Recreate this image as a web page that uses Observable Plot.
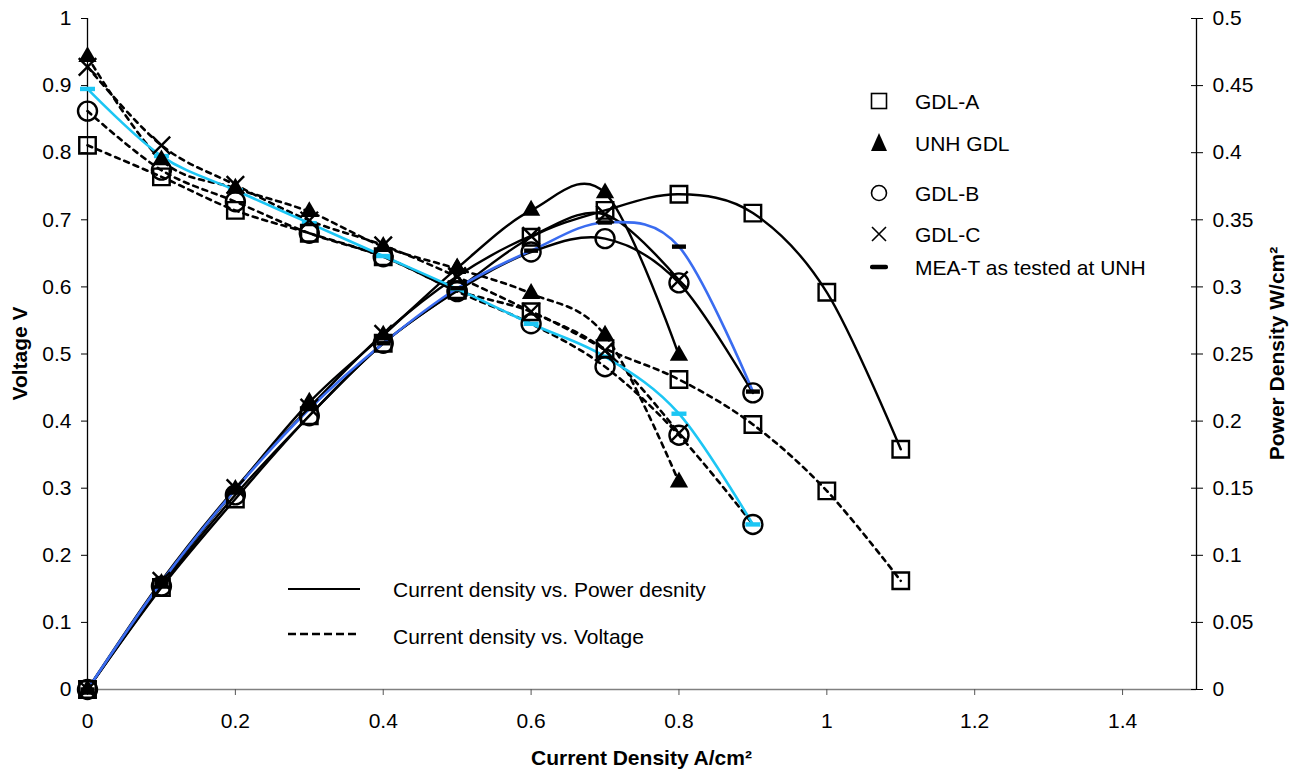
<!DOCTYPE html>
<html>
<head>
<meta charset="utf-8">
<script src="https://cdn.jsdelivr.net/npm/d3@7"></script>
<script src="https://cdn.jsdelivr.net/npm/@observablehq/plot@0.6"></script>
<style>
  html, body { margin: 0; padding: 0; background: #fff; }
  #wrap { position: relative; width: 1299px; height: 771px; overflow: hidden; background: #fff; }
  #wrap svg { display: block; }
  #overlay { position: absolute; left: 0; top: 0; pointer-events: none; }
</style>
</head>
<body>
<div id="wrap"></div>
<script>
// ---------------- data ----------------
const current = [0, 0.1, 0.2, 0.3, 0.4, 0.5, 0.6, 0.7, 0.8, 0.9, 1.0, 1.1];

const seriesNames = ["GDL-A", "UNH GDL", "GDL-B", "GDL-C", "MEA-T as tested at UNH"];

const voltageGDLA = [0.811, 0.764, 0.714, 0.680, 0.645, 0.595, 0.563, 0.508, 0.462, 0.395, 0.296, 0.162];
const powerGDLA   = [0, 0.076, 0.142, 0.204, 0.258, 0.298, 0.337, 0.357, 0.369, 0.355, 0.296, 0.179];

const voltageUNH  = [0.943, 0.789, 0.747, 0.712, 0.660, 0.627, 0.590, 0.528, 0.309];
const powerUNH    = [0, 0.079, 0.149, 0.214, 0.264, 0.314, 0.357, 0.370, 0.249];

const voltageGDLB = [0.862, 0.774, 0.727, 0.680, 0.645, 0.593, 0.545, 0.481, 0.379, 0.246];
const powerGDLB   = [0, 0.077, 0.145, 0.204, 0.258, 0.297, 0.326, 0.336, 0.303, 0.221];

const voltageGDLC = [0.928, 0.811, 0.752, 0.699, 0.662, 0.615, 0.563, 0.505, 0.382];
const powerGDLC   = [0, 0.081, 0.150, 0.210, 0.265, 0.308, 0.338, 0.354, 0.305];

const voltageMEAT = [0.895, 0.795, 0.744, 0.695, 0.646, 0.597, 0.545, 0.496, 0.411, 0.246];
const powerMEAT   = [0, 0.080, 0.149, 0.209, 0.258, 0.299, 0.327, 0.348, 0.330, 0.222];

// axes / tick labels
const xTicks = [0, 0.2, 0.4, 0.6, 0.8, 1, 1.2, 1.4];
const xDomain = [0, 1.5];
const voltageTicks = [0, 0.1, 0.2, 0.3, 0.4, 0.5, 0.6, 0.7, 0.8, 0.9, 1];
const powerTicks = [0, 0.05, 0.1, 0.15, 0.2, 0.25, 0.3, 0.35, 0.4, 0.45, 0.5];
const voltageMax = 1;
const powerMax = 0.5;

const xTitle = "Current Density A/cm²";
const yTitle = "Voltage V";
const y2Title = "Power Density W/cm²";
const lineLegend = ["Current density vs. Power desnity", "Current density vs. Voltage"];

// ---------------- build table ----------------
const voltages = [voltageGDLA, voltageUNH, voltageGDLB, voltageGDLC, voltageMEAT];
const powers = [powerGDLA, powerUNH, powerGDLB, powerGDLC, powerMEAT];
const rows = [];
seriesNames.forEach((s, si) => {
  voltages[si].forEach((v, i) => rows.push({series: s, x: current[i], v, p: powers[si][i]}));
});
const ratio = voltageMax / powerMax;  // right axis -> left axis units
const bySeries = s => rows.filter(d => d.series === s);

// ---------------- styles ----------------
const FONT = "'Liberation Sans', Arial, Helvetica, sans-serif";
const W = 1299, H = 771;
const M = {top: 18, right: 103, bottom: 82, left: 87};
const CYAN = "#1cc6f4";
const BLUE = "#3a6cf0";

const dashSymbol = {
  draw(ctx, size) {
    const w = Math.sqrt(size / Math.PI);
    ctx.moveTo(-w, -2.2); ctx.lineTo(w, -2.2); ctx.lineTo(w, 2.2); ctx.lineTo(-w, 2.2); ctx.closePath();
  }
};

const markerOpts = {
  "GDL-A": {symbol: "square", r: 9.3, fill: "none", stroke: "#000", strokeWidth: 2.4},
  "UNH GDL": {symbol: "triangle", r: 6.8, fill: "#000", stroke: "none"},
  "GDL-B": {symbol: "circle", r: 9.5, fill: "none", stroke: "#000", strokeWidth: 2.4},
  "GDL-C": {symbol: "times", r: 8, fill: "none", stroke: "#000", strokeWidth: 2.4}
};

const marks = [
  Plot.ruleY([0], {stroke: "#808080", strokeWidth: 1.5}),
  Plot.ruleX([xDomain[0]], {stroke: "#000", strokeWidth: 1.3}),
  Plot.ruleX([xDomain[1]], {stroke: "#000", strokeWidth: 1.3}),
  Plot.axisX(xTicks, {tickSize: 6, tickPadding: 18, label: null, tickFormat: d => String(d), fontSize: 21, stroke: "#555"}),
  Plot.axisY(voltageTicks, {anchor: "left", tickSize: 6, tickPadding: 10, label: null, tickFormat: d => String(d), fontSize: 21}),
  Plot.axisY(powerTicks, {anchor: "right", y: d => d * ratio, tickSize: 12, dx: -6, tickPadding: 10, label: null, tickFormat: d => String(d), fontSize: 21})
];

// voltage curves (dashed), first four series
["GDL-A", "UNH GDL", "GDL-B", "GDL-C"].forEach(s => {
  marks.push(Plot.line(bySeries(s), {x: "x", y: "v", curve: "cardinal", stroke: "#000", strokeWidth: 2.6, strokeDasharray: "5,5"}));
});
// power curves (solid black)
["GDL-A", "UNH GDL", "GDL-B", "GDL-C"].forEach(s => {
  marks.push(Plot.line(bySeries(s), {x: "x", y: d => d.p * ratio, curve: "cardinal", stroke: "#000", strokeWidth: 2.4}));
});
// MEA-T curves
marks.push(Plot.line(bySeries(seriesNames[4]), {x: "x", y: "v", curve: "cardinal", stroke: CYAN, strokeWidth: 2.6}));
marks.push(Plot.line(bySeries(seriesNames[4]), {x: "x", y: d => d.p * ratio, curve: "cardinal", stroke: BLUE, strokeWidth: 2.6}));

// markers
marks.push(Plot.dot(bySeries(seriesNames[4]), {x: "x", y: "v", symbol: dashSymbol, r: 7.5, fill: CYAN, stroke: "none"}));
marks.push(Plot.dot(bySeries(seriesNames[4]), {x: "x", y: d => d.p * ratio, symbol: dashSymbol, r: 7, fill: "#000", stroke: "none"}));
["GDL-A", "UNH GDL", "GDL-B", "GDL-C"].forEach(s => {
  marks.push(Plot.dot(bySeries(s), {x: "x", y: "v", ...markerOpts[s]}));
  marks.push(Plot.dot(bySeries(s), {x: "x", y: d => d.p * ratio, ...markerOpts[s]}));
});

const chart = Plot.plot({
  width: W, height: H,
  marginTop: M.top, marginRight: M.right, marginBottom: M.bottom, marginLeft: M.left,
  x: {domain: xDomain},
  y: {domain: [0, voltageMax]},
  style: {fontFamily: FONT, fontSize: "21px", color: "#000", background: "#fff", overflow: "visible"},
  marks
});
const wrap = document.getElementById("wrap");
wrap.appendChild(chart);

// ---------------- overlay: titles and legends ----------------
const ov = d3.select(wrap).append("svg").attr("id", "overlay").attr("width", W).attr("height", H)
  .style("font-family", FONT);

ov.append("text").attr("transform", `translate(19,${(M.top + H - M.bottom) / 2}) rotate(-90)`)
  .attr("text-anchor", "middle").attr("dominant-baseline", "central")
  .attr("font-weight", "bold").attr("font-size", 21).text(yTitle);
ov.append("text").attr("transform", `translate(1276,${(M.top + H - M.bottom) / 2}) rotate(-90)`)
  .attr("text-anchor", "middle").attr("dominant-baseline", "central")
  .attr("font-weight", "bold").attr("font-size", 21).text(y2Title);
ov.append("text").attr("x", (M.left + W - M.right) / 2).attr("y", 757)
  .attr("text-anchor", "middle").attr("dominant-baseline", "central")
  .attr("font-weight", "bold").attr("font-size", 21).text(xTitle);

// symbol legend
const legY = [101, 143, 193, 234, 267];
const sx = 879, tx = 915;
seriesNames.forEach((s, i) => {
  const y = legY[i];
  const g = ov.append("g").attr("transform", `translate(${sx},${y})`);
  if (i === 0) g.append("rect").attr("x", -7.5).attr("y", -7.5).attr("width", 15).attr("height", 15).attr("fill", "none").attr("stroke", "#000").attr("stroke-width", 1.6);
  if (i === 1) g.append("path").attr("d", "M0,-10 L8,8 L-8,8 Z").attr("fill", "#000");
  if (i === 2) g.append("circle").attr("r", 7.5).attr("fill", "none").attr("stroke", "#000").attr("stroke-width", 1.6);
  if (i === 3) g.append("path").attr("d", "M-7,-7 L7,7 M7,-7 L-7,7").attr("stroke", "#000").attr("stroke-width", 1.6);
  if (i === 4) g.append("rect").attr("x", -9).attr("y", -2.2).attr("width", 18).attr("height", 4.4).attr("rx", 2).attr("fill", "#000");
  ov.append("text").attr("x", tx).attr("y", y).attr("dominant-baseline", "central").attr("font-size", 21).text(s);
});

// line style legend
ov.append("line").attr("x1", 288).attr("x2", 360).attr("y1", 589).attr("y2", 589).attr("stroke", "#000").attr("stroke-width", 2);
ov.append("line").attr("x1", 288).attr("x2", 360).attr("y1", 634).attr("y2", 634).attr("stroke", "#000").attr("stroke-width", 2.6).attr("stroke-dasharray", "8,4");
ov.append("text").attr("x", 393).attr("y", 589).attr("dominant-baseline", "central").attr("font-size", 21).text(lineLegend[0]);
ov.append("text").attr("x", 393).attr("y", 636).attr("dominant-baseline", "central").attr("font-size", 21).text(lineLegend[1]);
</script>
</body>
</html>
